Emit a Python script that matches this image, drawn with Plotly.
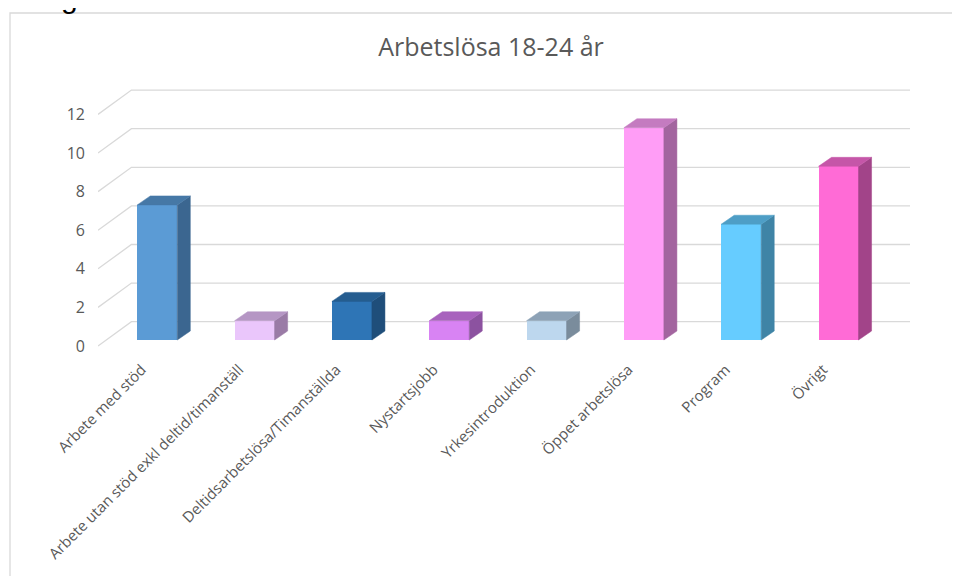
import plotly.graph_objects as go

# ---- data ----
categories = [
    "Arbete med stöd",
    "Arbete utan stöd exkl deltid/timanställ",
    "Deltidsarbetslösa/Timanställda",
    "Nystartsjobb",
    "Yrkesintroduktion",
    "Öppet arbetslösa",
    "Program",
    "Övrigt",
]
values = [7, 1, 2, 1, 1, 11, 6, 9]
y_ticks = [0, 2, 4, 6, 8, 10, 12]
title_text = "Arbetslösa 18-24 år"

front_colors = ["#5B9BD5", "#EAC6FB", "#2E75B6", "#D883F3", "#BDD7EE", "#FF9DF6", "#66CCFF", "#FF6BD6"]
top_colors = ["#4678A6", "#B596C4", "#255D90", "#A862BD", "#8DA2B6", "#C47BC0", "#4E9EC6", "#C556A8"]
side_colors = ["#3B6690", "#9A7BA6", "#1F4E7A", "#8C52A0", "#7A8C9C", "#A3659F", "#3F84A6", "#A24489"]

# ---- pseudo-3D geometry (in axis units) ----
BW = 0.411          # bar width
FDX, FDY = 0.109, 0.31   # front face offset from front plane
DDX, DDY = 0.134, 0.466  # bar depth offset
WDX, WDY = 0.3435, 1.26  # back wall offset
N = len(categories)
XMAX = N + WDX
LABEL_SHIFT = -0.05

OFF = 8  # page body margin
L, T = 98 - OFF, 75 - OFF
W, H = 960, 576
pw, ph = 812, 276
R, B = W - L - pw, H - T - ph
PXU = 19.3  # pixels per value unit


def py(page_y):
    """page pixel y -> paper y"""
    return (T + ph - (page_y - OFF)) / ph


def px(page_x):
    return (page_x - OFF - L) / pw


fig = go.Figure()

# front faces as real bars
centers = [i + 0.5 + FDX for i in range(N)]
fig.add_trace(go.Bar(
    x=centers, y=values, base=FDY, width=BW,
    marker=dict(color=front_colors, line=dict(width=0)),
    hoverinfo="skip", showlegend=False,
))

# side and top faces
for i, v in enumerate(values):
    xl = centers[i] - BW / 2
    xr = centers[i] + BW / 2
    y0 = FDY
    y1 = FDY + v
    fig.add_trace(go.Scatter(
        x=[xr, xr + DDX, xr + DDX, xr, xr],
        y=[y0, y0 + DDY, y1 + DDY, y1, y0],
        mode="lines", fill="toself", fillcolor=side_colors[i],
        line=dict(color=side_colors[i], width=0.5),
        hoverinfo="skip", showlegend=False,
    ))
    fig.add_trace(go.Scatter(
        x=[xl, xr, xr + DDX, xl + DDX, xl],
        y=[y1, y1, y1 + DDY, y1 + DDY, y1],
        mode="lines", fill="toself", fillcolor=top_colors[i],
        line=dict(color=top_colors[i], width=0.5),
        hoverinfo="skip", showlegend=False,
    ))

# gridlines (front diagonal + back wall)
for v in y_ticks:
    fig.add_shape(
        type="path",
        path=f"M 0,{v} L {WDX},{v + WDY} L {XMAX},{v + WDY}",
        xref="x", yref="y", layer="below",
        line=dict(color="#D9D9D9", width=1.3),
    )

# chart border
fig.add_shape(
    type="rect", xref="paper", yref="paper",
    x0=px(10), x1=px(975),
    y0=py(600), y1=py(13),
    line=dict(color="#D9D9D9", width=1.3), layer="below",
)

# cut-off text glyph at top-left of page
fig.add_annotation(
    text="g", xref="paper", yref="paper",
    x=px(69), y=py(16),
    xanchor="center", yanchor="bottom", showarrow=False,
    font=dict(family="Liberation Sans", size=30, color="#000000"),
)

y0 = -(351 - 346) / PXU
fig.update_layout(
    width=W, height=H,
    margin=dict(l=L, r=R, t=T, b=B, autoexpand=False),
    paper_bgcolor="white", plot_bgcolor="white",
    font=dict(family="Open Sans", color="#595959"),
    title=dict(text=title_text, x=(491 - OFF) / W, xanchor="center",
               y=1 - (47 - OFF) / H, yanchor="middle",
               font=dict(size=25, color="#595959", family="Open Sans")),
    xaxis=dict(range=[0, XMAX], tickvals=[i + 0.5 + LABEL_SHIFT for i in range(N)],
               ticktext=categories,
               tickangle=-45, showgrid=False, zeroline=False, showline=False, ticks="",
               ticklabelstandoff=6,
               tickfont=dict(size=15, color="#595959"), fixedrange=True),
    yaxis=dict(range=[y0, y0 + ph / PXU], tickvals=y_ticks, showgrid=False, zeroline=False,
               showline=False, ticks="", ticklabelstandoff=12,
               tickfont=dict(size=16, color="#595959"), fixedrange=True),
    bargap=0,
)

fig.write_html("out.html")
